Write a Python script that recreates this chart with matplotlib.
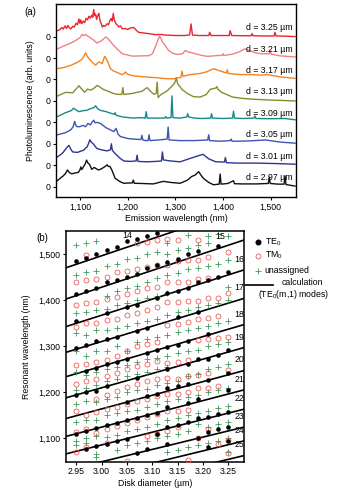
import numpy as np
import matplotlib
matplotlib.use("Agg")
import matplotlib.pyplot as plt
from matplotlib.ticker import FuncFormatter

plt.rcParams['font.family'] = ['Liberation Sans', 'DejaVu Sans']
plt.rcParams['font.size'] = 6.3
plt.rcParams['mathtext.fontset'] = 'custom'
plt.rcParams['mathtext.rm'] = 'Liberation Sans'
plt.rcParams['mathtext.it'] = 'Liberation Sans:italic'
plt.rcParams['mathtext.default'] = 'regular'

# ---------------- panel (a): PL spectra, bottom (2.97 um) to top (3.25 um)
diam_labels = ["2.97", "3.01", "3.05", "3.09", "3.13", "3.17", "3.21", "3.25"]
trace_colors = ["#111111", "#2e3592", "#3c55b0", "#17898a", "#8a8b30", "#f5821f", "#f08282", "#e8262c"]

wl_297 = [1053, 1060, 1065, 1070, 1074, 1078, 1083, 1090, 1097, 1100, 1102, 1104, 1108, 1111, 1114, 1117, 1120,
          1125, 1130, 1135, 1139, 1143, 1147, 1150, 1154, 1157, 1160, 1163, 1167,
          1174, 1183, 1192, 1210, 1212, 1214, 1230, 1254, 1275, 1290, 1310, 1325, 1334, 1342, 1349, 1355, 1359,
          1370, 1380, 1392, 1394, 1396, 1410, 1422, 1424, 1440, 1470, 1495, 1497, 1499, 1515, 1528, 1530, 1532, 1551]
pl_297 = [0.28, 0.42, 0.5, 0.62, 0.78, 0.66, 0.6, 0.64, 0.67, 0.78, 0.92, 0.8, 0.95, 1.05, 1.24, 1.1, 1.05,
          0.81, 0.9, 0.83, 0.78, 0.81, 0.86, 0.9, 0.96, 1.02, 0.94, 0.95, 0.78,
          0.39, 0.25, 0.16, 0.18, 0.31, 0.16, 0.15, 0.13, 0.25, 0.2, 0.16, 0.3, 0.47, 0.55, 0.7, 0.5, 0.39,
          0.2, 0.09, 0.12, 0.59, 0.12, 0.15, 0.28, 0.14, 0.13, 0.13, 0.15, 0.44, 0.15, 0.12, 0.12, 0.5, 0.1, 0.03]

wl_301 = [1053, 1060, 1065, 1071, 1077, 1081, 1085, 1095, 1102, 1108, 1112, 1115, 1118, 1121, 1124, 1128, 1132,
          1136, 1145, 1157, 1164, 1166, 1168, 1174, 1183,
          1192, 1205, 1218, 1220, 1222, 1240, 1260, 1271, 1273, 1275, 1290, 1310, 1330, 1345, 1358, 1370, 1385,
          1403, 1405, 1407, 1430, 1470, 1510, 1551]
pl_301 = [0.39, 0.5, 0.6, 0.78, 0.93, 0.75, 0.62, 0.6, 0.66, 0.7, 0.8, 0.85, 1.0, 1.19, 1.08, 1.0, 0.88,
          0.78, 0.72, 0.67, 0.72, 1.0, 0.7, 0.54, 0.35,
          0.2, 0.18, 0.2, 0.47, 0.18, 0.16, 0.18, 0.2, 0.62, 0.25, 0.2, 0.16, 0.31, 0.42, 0.51, 0.3, 0.16,
          0.15, 0.36, 0.12, 0.1, 0.1, 0.08, 0.05]

wl_305 = [1053, 1070, 1081, 1086, 1089, 1092, 1094, 1100, 1106, 1112, 1117, 1122, 1126, 1129, 1132, 1136, 1143,
          1155, 1171, 1176, 1180, 1185, 1200,
          1212, 1228, 1230, 1232, 1238, 1243, 1245, 1247, 1265, 1283, 1285, 1287, 1310, 1340, 1368, 1370, 1372,
          1395, 1415, 1417, 1419, 1450, 1489, 1520, 1551]
pl_305 = [0.42, 0.52, 0.65, 0.8, 1.04, 0.85, 0.8, 0.8, 0.86, 0.8, 0.95, 0.88, 1.02, 1.1, 0.98, 1.0, 0.95,
          0.75, 0.57, 0.72, 0.45, 0.34, 0.25,
          0.22, 0.2, 0.4, 0.18, 0.15, 0.15, 0.42, 0.15, 0.18, 0.22, 0.78, 0.18, 0.15, 0.15, 0.18, 0.42, 0.15,
          0.12, 0.15, 0.22, 0.12, 0.13, 0.18, 0.08, 0.03]

wl_309 = [1053, 1070, 1082, 1087, 1092, 1098, 1108, 1115, 1120, 1125, 1130, 1133, 1138, 1143, 1155, 1164, 1172,
          1174, 1176, 1190, 1212, 1225,
          1237, 1239, 1241, 1260, 1278, 1280, 1282, 1291, 1293, 1295, 1310, 1324, 1326, 1328, 1340, 1356, 1374,
          1376, 1378, 1400, 1420, 1422, 1424, 1440, 1465, 1467, 1469, 1500, 1530, 1551]
pl_309 = [0.27, 0.45, 0.55, 0.66, 0.58, 0.5, 0.55, 0.56, 0.62, 0.65, 0.7, 0.77, 0.62, 0.56, 0.5, 0.43, 0.38,
          0.45, 0.33, 0.25, 0.2, 0.22,
          0.2, 0.5, 0.2, 0.2, 0.2, 0.27, 0.2, 0.22, 1.23, 0.22, 0.2, 0.25, 0.4, 0.25, 0.2, 0.18, 0.2,
          0.4, 0.2, 0.18, 0.2, 0.52, 0.2, 0.18, 0.2, 0.3, 0.18, 0.17, 0.18, 0.12]

wl_313 = [1053, 1070, 1085, 1094, 1098, 1102, 1110, 1116, 1123, 1130, 1136, 1140, 1148, 1157, 1170, 1178, 1188,
          1190, 1192, 1210, 1230, 1241, 1248, 1255, 1260, 1262, 1264, 1270, 1283, 1297, 1300, 1302, 1305, 1314,
          1325, 1338, 1352, 1365, 1373, 1385, 1387, 1389, 1397, 1420, 1440, 1462, 1500, 1551]
pl_313 = [0.23, 0.4, 0.38, 0.6, 0.71, 0.6, 0.4, 0.55, 0.5, 0.6, 0.72, 0.68, 0.55, 0.47, 0.35, 0.31, 0.3,
          0.62, 0.3, 0.35, 0.45, 0.62, 0.45, 0.31, 0.35, 0.88, 0.16, 0.3, 0.47, 0.78, 0.9, 1.09, 0.8, 0.54,
          0.35, 0.2, 0.18, 0.3, 0.54, 0.6, 0.67, 0.55, 0.4, 0.18, 0.12, 0.08, 0.04, 0.0]

wl_317 = [1053, 1065, 1081, 1095, 1105, 1109, 1112, 1115, 1119, 1126, 1133, 1140, 1147, 1150, 1152, 1155, 1158,
          1164, 1170, 1178, 1189, 1196, 1199, 1210, 1230, 1262, 1280, 1296, 1312, 1314, 1316, 1330, 1352, 1365,
          1380, 1394, 1407, 1409, 1411, 1425, 1436, 1460, 1480, 1492, 1520, 1551]
pl_317 = [0.51, 0.55, 0.66, 0.8, 0.95, 1.12, 1.24, 1.1, 0.98, 0.8, 0.67, 0.82, 0.74, 0.95, 1.08, 0.98, 0.85,
          0.51, 0.4, 0.33, 0.22, 0.35, 0.25, 0.18, 0.13, 0.08, 0.04, 0.03, 0.1, 0.39, 0.15, 0.22, 0.28, 0.35,
          0.5, 0.4, 0.3, 0.45, 0.28, 0.25, 0.23, 0.23, 0.2, 0.23, 0.12, 0.05]

wl_321 = [1053, 1065, 1077, 1090, 1100, 1105, 1108, 1112, 1116, 1119, 1123, 1128, 1136, 1145, 1150, 1154, 1158,
          1163, 1168, 1178, 1189, 1200, 1210, 1230, 1245, 1252, 1258, 1263, 1267, 1270, 1272, 1280, 1286, 1295,
          1304, 1315, 1321, 1327, 1334, 1345, 1360, 1369, 1390, 1398, 1400, 1402, 1420, 1435, 1446, 1455, 1467,
          1480, 1497, 1499, 1501, 1520, 1551]
pl_321 = [0.43, 0.55, 0.66, 0.8, 0.95, 1.1, 1.05, 1.1, 1.02, 1.0, 0.92, 0.85, 0.7, 0.8, 0.9, 0.98, 0.92,
          0.8, 0.66, 0.42, 0.2, 0.14, 0.09, 0.1, 0.11, 0.2, 0.51, 0.8, 1.02, 0.92, 0.79, 0.55, 0.35, 0.22,
          0.17, 0.2, 0.35, 0.28, 0.25, 0.18, 0.1, 0.08, 0.12, 0.12, 0.2, 0.12, 0.18, 0.3, 0.43, 0.35, 0.25,
          0.2, 0.2, 0.35, 0.18, 0.1, 0.05]

wl_325 = [1053, 1058, 1062, 1065, 1069, 1072, 1075, 1078, 1081, 1085, 1088, 1092, 1095, 1098, 1100, 1102, 1104,
          1107, 1110, 1113, 1116, 1119, 1122, 1125, 1127, 1129, 1131, 1133, 1135, 1137, 1140, 1142, 1145, 1147,
          1150, 1153, 1157, 1160, 1163, 1166, 1168, 1170, 1172, 1175, 1178, 1182, 1185, 1189, 1195, 1200, 1206,
          1213, 1218, 1223, 1230, 1240, 1250, 1258, 1270, 1280, 1300, 1320, 1330, 1333, 1336, 1350, 1370, 1372,
          1375, 1400, 1413, 1415, 1418, 1440, 1459, 1461, 1463, 1480, 1507, 1509, 1511, 1530, 1551]
pl_325 = [0.28, 0.32, 0.42, 0.35, 0.5, 0.38, 0.52, 0.4, 0.36, 0.48, 0.44, 0.62, 0.55, 0.82, 0.62, 0.78, 0.6,
          0.72, 0.65, 0.85, 0.78, 0.95, 0.86, 1.0, 0.9, 1.26, 0.98, 1.05, 0.8, 0.95, 1.08, 0.75, 0.6, 0.44,
          0.52, 0.48, 0.6, 0.55, 0.75, 0.85, 0.72, 1.08, 0.8, 0.62, 0.55, 0.45, 0.5, 0.36, 0.38, 0.33, 0.4,
          0.42, 0.3, 0.2, 0.18, 0.15, 0.12, 0.09, 0.1, 0.07, 0.05, 0.05, 0.08, 0.59, 0.07, 0.05, 0.05, 0.2,
          0.05, 0.05, 0.05, 0.28, 0.05, 0.04, 0.04, 0.14, 0.04, 0.03, 0.03, 0.2, 0.03, 0.02, 0.0]

spectra = [(wl_297, pl_297), (wl_301, pl_301), (wl_305, pl_305), (wl_309, pl_309),
           (wl_313, pl_313), (wl_317, pl_317), (wl_321, pl_321), (wl_325, pl_325)]

# ---------------- panel (b): resonances vs disk diameter
diameters = [2.95, 2.97, 2.99, 3.01, 3.03, 3.05, 3.07, 3.09, 3.11, 3.13, 3.15, 3.17, 3.19, 3.21, 3.23, 3.25]

te0_wl = [
    [1486, 1413, 1355, 1297, 1194, 1110],
    [1493, 1421, 1304, 1247, 1200, 1116, 1077],
    [1500, 1427, 1311, 1253, 1203, 1122, 1083],
    [1509, 1439, 1372, 1317, 1261, 1213, 1128, 1088],
    [1517, 1444, 1320, 1266, 1133, 1094],
    [1529, 1451, 1385, 1273, 1179, 1139, 1099],
    [1533, 1457, 1390, 1334, 1231, 1145, 1067],
    [1540, 1471, 1341, 1286, 1191, 1150, 1076],
    [1546, 1477, 1406, 1292, 1197, 1156, 1110],
    [1483, 1415, 1299, 1250, 1209, 1167, 1125, 1087],
    [1491, 1420, 1364, 1304, 1213, 1129],
    [1502, 1426, 1312, 1262, 1218, 1176, 1136],
    [1507, 1440, 1374, 1272, 1185, 1143, 1100],
    [1444, 1326, 1272, 1226, 1147, 1114, 1080],
    [1519, 1450, 1281, 1152, 1120],
    [1461, 1292, 1241, 1205, 1158, 1125, 1094],
]

tm0_wl = [
    [1440, 1390, 1343, 1259, 1219, 1160, 1114, 1070],
    [1498, 1444, 1395, 1350, 1262, 1225, 1150, 1120, 1082],
    [1446, 1396, 1350, 1265, 1230, 1185, 1158, 1112],
    [1451, 1402, 1357, 1270, 1236, 1195, 1163, 1120, 1090],
    [1462, 1407, 1359, 1280, 1243, 1203, 1168, 1127],
    [1464, 1413, 1368, 1290, 1250, 1212, 1174, 1133, 1050],
    [1525, 1468, 1420, 1372, 1300, 1257, 1218, 1180, 1140],
    [1528, 1473, 1426, 1380, 1305, 1262, 1224, 1186, 1146, 1105],
    [1531, 1476, 1430, 1385, 1310, 1268, 1230, 1192, 1152, 1110],
    [1533, 1477, 1439, 1396, 1346, 1263, 1231, 1196, 1159, 1115],
    [1531, 1485, 1441, 1396, 1348, 1265, 1230, 1196, 1159, 1125],
    [1488, 1441, 1398, 1353, 1270, 1236, 1200, 1162, 1053],
    [1531, 1488, 1446, 1398, 1359, 1314, 1238, 1209, 1100],
    [1495, 1448, 1406, 1361, 1316, 1241, 1209, 1120],
    [1406, 1365, 1318, 1213, 1087],
    [1506, 1415, 1321, 1249, 1096, 1067],
]

unassigned_wl = [
    [1520, 1455, 1372, 1330, 1290, 1245, 1205, 1175, 1135, 1095, 1085],
    [1525, 1462, 1375, 1325, 1280, 1238, 1210, 1180, 1140, 1100, 1090],
    [1529, 1463, 1378, 1335, 1290, 1245, 1215, 1178, 1140, 1105, 1065, 1060],
    [1475, 1410, 1382, 1335, 1290, 1250, 1225, 1185, 1150, 1102],
    [1480, 1420, 1390, 1340, 1300, 1255, 1230, 1190, 1155, 1108, 1075],
    [1490, 1428, 1395, 1345, 1290, 1260, 1235, 1200, 1160, 1115, 1085],
    [1493, 1432, 1400, 1350, 1310, 1265, 1240, 1205, 1162, 1120, 1090],
    [1500, 1440, 1405, 1355, 1315, 1272, 1245, 1208, 1168, 1125, 1095],
    [1505, 1448, 1410, 1360, 1320, 1275, 1250, 1215, 1175, 1130, 1100],
    [1525, 1500, 1455, 1415, 1368, 1325, 1280, 1255, 1220, 1180, 1140, 1105, 1070],
    [1510, 1460, 1375, 1332, 1285, 1225, 1185, 1145, 1110, 1075],
    [1542, 1515, 1468, 1380, 1335, 1290, 1235, 1190, 1150, 1115, 1080],
    [1520, 1470, 1385, 1340, 1292, 1240, 1195, 1155, 1130, 1085],
    [1540, 1525, 1475, 1390, 1345, 1300, 1250, 1200, 1160, 1125, 1090],
    [1545, 1480, 1395, 1350, 1305, 1255, 1205, 1165, 1130, 1095],
    [1540, 1488, 1430, 1400, 1355, 1310, 1262, 1210, 1170, 1135, 1100, 1070],
]

# calculated TE0(m,1) modes: wavelength at d = 2.93 and d = 3.28 um
calc_m = [14, 15, 16, 17, 18, 19, 20, 21, 22, 23, 24, 25]
calc_d = [2.93, 3.28]
calc_start = [1471, 1403, 1343, 1287, 1234, 1188, 1143, 1104, 1066, 1030, 1000, 970]
calc_end = [1601, 1531, 1466, 1404, 1347, 1297, 1247, 1205, 1163, 1124, 1094, 1062]
label_d = [3.05, 3.234, 3.272, 3.272, 3.272, 3.272, 3.272, 3.272, 3.272, 3.272, 3.272, 3.272]

comma = FuncFormatter(lambda v, p: f"{int(v):,}")

fig = plt.figure(figsize=(3.39, 4.92), dpi=100)

# ---- (a)
ax1 = fig.add_axes([0.1652, 0.5996, 0.708, 0.3923])
for k, (wl, pl) in enumerate(spectra):
    ax1.plot(wl, np.array(pl) + k, color=trace_colors[k], lw=1.0)
    ax1.text(1546, k + 0.42, f"d = {diam_labels[k]} µm", ha="right", va="center", fontsize=6.3)
ax1.set_xlim(1050, 1553)
ax1.set_ylim(-0.48, 8.52)
ax1.set_yticks(range(len(spectra)))
ax1.set_yticklabels(["0"] * len(spectra))
ax1.set_xticks([1100, 1200, 1300, 1400, 1500])
ax1.xaxis.set_major_formatter(comma)
ax1.set_xlabel("Emission wavelength (nm)", labelpad=2)
ax1.set_ylabel("Photoluminescence (arb. units)")
ax1.yaxis.set_label_coords(-0.088, 0.5)
ax1.tick_params(direction="out", length=2.5, width=0.8, pad=1.5)
for s in ax1.spines.values():
    s.set_linewidth(1.0)
fig.text(0.088, 0.975, "(a)", fontsize=7, ha="center", va="center")

# ---- (b)
ax2 = fig.add_axes([0.1947, 0.0616, 0.5236, 0.4689])
for m, a, b in zip(calc_m, calc_start, calc_end):
    ax2.plot(calc_d, [a, b], color="black", lw=1.2, zorder=1)
for d, ys in zip(diameters, unassigned_wl):
    ax2.plot([d] * len(ys), ys, ls="none", marker="+", ms=3.8, mew=0.6, color="#3f9a5a", zorder=2)
for d, ys in zip(diameters, tm0_wl):
    ax2.plot([d] * len(ys), ys, ls="none", marker="o", ms=3.6, mew=0.55, mfc="none", mec="#ee4f4a", zorder=3)
for d, ys in zip(diameters, te0_wl):
    ax2.plot([d] * len(ys), ys, ls="none", marker="o", ms=3.3, mew=0, color="black", zorder=4)
for m, a, b, dl in zip(calc_m, calc_start, calc_end, label_d):
    yl = a + (b - a) * (dl - calc_d[0]) / (calc_d[1] - calc_d[0])
    ax2.annotate(str(m), xy=(dl, yl), xytext=(0, 8.5), textcoords="offset points",
                 ha="center", va="center", fontsize=6.3)
ax2.set_xlim(2.93, 3.28)
ax2.set_ylim(1049, 1551)
ax2.set_xticks([2.95, 3.00, 3.05, 3.10, 3.15, 3.20, 3.25])
ax2.xaxis.set_major_formatter(FuncFormatter(lambda v, p: f"{v:.2f}"))
ax2.set_yticks([1100, 1200, 1300, 1400, 1500])
ax2.yaxis.set_major_formatter(comma)
ax2.set_xlabel("Disk diameter (µm)", labelpad=2)
ax2.set_ylabel("Resonant wavelength (nm)")
ax2.yaxis.set_label_coords(-0.2, 0.5)
ax2.tick_params(direction="out", length=2.5, width=0.8, pad=1.5)
for s in ax2.spines.values():
    s.set_linewidth(1.1)
fig.text(0.126, 0.516, "(b)", fontsize=7, ha="center", va="center")

# legend drawn beside panel (b)
lx = 1.08
ax2.plot([lx], [0.952], transform=ax2.transAxes, marker="o", ms=3.3, color="black", clip_on=False)
ax2.text(lx + 0.04, 0.952, "TE$_0$", transform=ax2.transAxes, va="center")
ax2.plot([lx], [0.893], transform=ax2.transAxes, marker="o", ms=3.6, mew=0.55, mfc="none",
         mec="#ee4f4a", clip_on=False)
ax2.text(lx + 0.04, 0.893, "TM$_0$", transform=ax2.transAxes, va="center")
ax2.plot([lx], [0.828], transform=ax2.transAxes, marker="+", ms=3.8, mew=0.6, color="#3f9a5a",
         clip_on=False)
ax2.text(lx + 0.04, 0.828, "unassigned", transform=ax2.transAxes, va="center")
ax2.plot([1.01, 1.165], [0.768, 0.768], transform=ax2.transAxes, color="black", lw=1.2, clip_on=False)
ax2.text(1.33, 0.777, "calculation", transform=ax2.transAxes, ha="center", va="center")
ax2.text(1.28, 0.726, "(TE$_0$($m$,1) modes)", transform=ax2.transAxes, ha="center", va="center")

fig.savefig("out.png", dpi=100)
